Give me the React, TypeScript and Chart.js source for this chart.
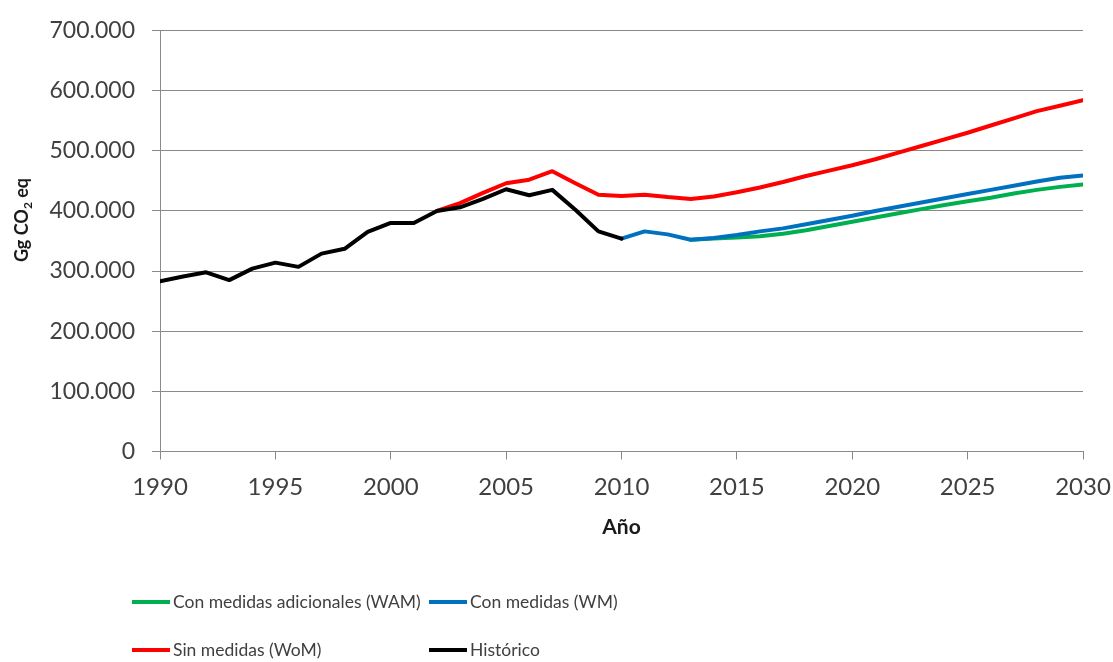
import React, { useEffect, useRef } from "react";
import { Chart, registerables } from "chart.js";

Chart.register(...registerables);

// ---- data ----
const years = [
  1990, 1991, 1992, 1993, 1994, 1995, 1996, 1997, 1998, 1999,
  2000, 2001, 2002, 2003, 2004, 2005, 2006, 2007, 2008, 2009,
  2010, 2011, 2012, 2013, 2014, 2015, 2016, 2017, 2018, 2019,
  2020, 2021, 2022, 2023, 2024, 2025, 2026, 2027, 2028, 2029, 2030,
];

// Histórico 1990-2010
const historico = [
  283000, 291000, 298000, 285000, 304000, 314000, 307000, 329000, 337000, 365000,
  380000, 380000, 400000, 406000, 420000, 436000, 426000, 435000, 402000, 366000,
  354000,
];

// Sin medidas (WoM) 2002-2030
const sinMedidasStart = 2002;
const sinMedidas = [
  400000, 413000, 430000, 446000, 452000, 466000, 446000, 427000, 425000, 427000,
  423000, 420000, 424000, 431000, 439000, 448000, 458000, 467000, 476000, 486000,
  497000, 508000, 519000, 530000, 542000, 554000, 566000, 575000, 584000,
];

// Con medidas (WM) 2010-2030
const conMedidasStart = 2010;
const conMedidas = [
  354000, 366000, 361000, 352000, 355000, 360000, 366000, 371000, 378000, 385000,
  392000, 400000, 407000, 414000, 421000, 428000, 435000, 442000, 449000, 455000,
  459000,
];

// Con medidas adicionales (WAM) 2013-2030
const adicionalesStart = 2013;
const adicionales = [
  352000, 354000, 356000, 358000, 362000, 368000, 375000, 382000, 389000, 396000,
  403000, 410000, 416000, 422000, 429000, 435000, 440000, 444000,
];

const seriesLabels = [
  "Con medidas adicionales (WAM)",
  "Con medidas (WM)",
  "Sin medidas (WoM)",
  "Histórico",
];
const seriesColors = ["#00B050", "#0070C0", "#FF0000", "#000000"];

const yTicks = [0, 100000, 200000, 300000, 400000, 500000, 600000, 700000];
const xTicks = [1990, 1995, 2000, 2005, 2010, 2015, 2020, 2025, 2030];

const FONT = "Lato, 'Open Sans', sans-serif";
const TEXT = "#404040";
const GRID = "#8a8a8a";

function toPoints(start: number, values: number[]) {
  return values.map((v, i) => ({ x: years[years.indexOf(start) + i], y: v }));
}

function fmtThousands(v: number) {
  if (v === 0) return "0";
  const s = Math.round(v).toString();
  return s.replace(/\B(?=(\d{3})+(?!\d))/g, ".");
}

const customPlugin = {
  id: "customDecor",
  afterDraw(chart: any) {
    const ctx = chart.ctx as CanvasRenderingContext2D;
    // Y title with subscript
    ctx.save();
    ctx.fillStyle = "#1a1a1a";
    ctx.translate(20, 212);
    ctx.rotate(-Math.PI / 2);
    const big = `bold 18px ${FONT}`;
    const small = `bold 12px ${FONT}`;
    ctx.font = big;
    const p1 = "Gg CO";
    const p3 = " eq";
    const w1 = ctx.measureText(p1).width;
    const w3 = ctx.measureText(p3).width;
    ctx.font = small;
    const w2 = ctx.measureText("2").width;
    const total = w1 + w2 + w3;
    let x = -total / 2;
    ctx.textBaseline = "alphabetic";
    ctx.textAlign = "left";
    ctx.font = big;
    ctx.fillText(p1, x, 0);
    x += w1;
    ctx.font = small;
    ctx.fillText("2", x, 4);
    x += w2;
    ctx.font = big;
    ctx.fillText(p3, x, 0);
    ctx.restore();

    // Legend
    const pos = [
      { lx: 124, y: 594 },
      { lx: 421, y: 594 },
      { lx: 124, y: 642 },
      { lx: 421, y: 642 },
    ];
    ctx.save();
    ctx.font = `17.5px ${FONT}`;
    ctx.textBaseline = "middle";
    ctx.textAlign = "left";
    chart.data.datasets.forEach((ds: any, i: number) => {
      const p = pos[i];
      ctx.strokeStyle = ds.borderColor;
      ctx.lineWidth = 4;
      ctx.lineCap = "butt";
      ctx.beginPath();
      ctx.moveTo(p.lx, p.y);
      ctx.lineTo(p.lx + 38, p.y);
      ctx.stroke();
      ctx.fillStyle = TEXT;
      ctx.fillText(ds.label, p.lx + 41, p.y);
    });
    ctx.restore();
  },
};

export default function App() {
  const ref = useRef<HTMLCanvasElement | null>(null);

  useEffect(() => {
    const prevMargin = document.body.style.margin;
    document.body.style.margin = "0";
    if (!ref.current) return;
    const chart = new Chart(ref.current, {
      type: "line",
      data: {
        datasets: [
          {
            label: seriesLabels[0],
            data: toPoints(adicionalesStart, adicionales),
            borderColor: seriesColors[0],
            order: 2,
          },
          {
            label: seriesLabels[1],
            data: toPoints(conMedidasStart, conMedidas),
            borderColor: seriesColors[1],
            order: 1,
          },
          {
            label: seriesLabels[2],
            data: toPoints(sinMedidasStart, sinMedidas),
            borderColor: seriesColors[2],
            order: 3,
          },
          {
            label: seriesLabels[3],
            data: toPoints(years[0], historico),
            borderColor: seriesColors[3],
            order: 0,
          },
        ].map((d) => ({
          ...d,
          borderWidth: 4,
          pointRadius: 0,
          tension: 0,
          fill: false,
          borderJoinStyle: "round" as const,
          borderCapStyle: "round" as const,
        })),
      },
      options: {
        responsive: false,
        animation: false,
        devicePixelRatio: 1,
        layout: { padding: { top: 22.5, right: 30, bottom: 118, left: 0 } },
        plugins: {
          legend: { display: false },
          tooltip: { enabled: false },
        },
        scales: {
          x: {
            type: "linear",
            min: years[0],
            max: years[years.length - 1],
            afterBuildTicks: (scale: any) => {
              scale.ticks = xTicks.map((v) => ({ value: v }));
            },
            afterFit: (scale: any) => {
              scale.height = 92.5;
              scale.paddingLeft = 0;
              scale.paddingRight = 0;
            },
            ticks: {
              callback: (v: any) => String(v),
              font: { family: FONT, size: 24 },
              color: TEXT,
              padding: 13,
              maxRotation: 0,
              autoSkip: false,
            },
            grid: {
              drawOnChartArea: false,
              drawTicks: true,
              tickLength: 8,
              color: GRID,
            },
            border: { display: true, color: GRID },
            title: {
              display: true,
              text: "Año",
              font: { family: FONT, size: 21, weight: "bold" },
              color: "#1a1a1a",
            },
          },
          y: {
            min: 0,
            max: 700000,
            afterBuildTicks: (scale: any) => {
              scale.ticks = yTicks.map((v) => ({ value: v }));
            },
            afterFit: (scale: any) => {
              scale.width = 152;
              scale.paddingTop = 0;
              scale.paddingBottom = 0;
            },
            ticks: {
              callback: (v: any) => fmtThousands(Number(v)),
              font: { family: FONT, size: 23 },
              color: TEXT,
              padding: 17,
            },
            grid: {
              drawOnChartArea: true,
              drawTicks: true,
              tickLength: 8,
              color: GRID,
            },
            border: { display: true, color: GRID },
          },
        },
      },
      plugins: [customPlugin],
    } as any);
    return () => {
      chart.destroy();
      document.body.style.margin = prevMargin;
    };
  }, []);

  return (
    <div style={{ width: 1113, height: 662, boxSizing: "border-box", padding: "8px 0 0 8px" }}>
      <canvas ref={ref} width={1105} height={654} style={{ display: "block" }} />
    </div>
  );
}
